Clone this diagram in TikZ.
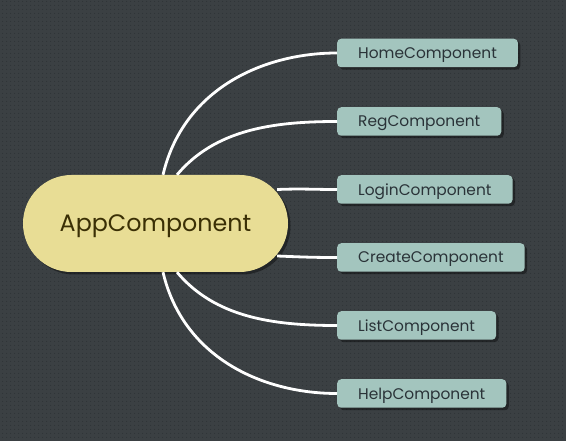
\documentclass[tikz,border=0pt]{standalone}
\usepackage{fontspec}
\setmainfont{Poppins}
\usetikzlibrary{shapes.misc,shadows,patterns.meta}
\definecolor{bg}{HTML}{3B4043}
\definecolor{bgdot}{HTML}{2F3437}
\definecolor{pillfill}{HTML}{E8DD95}
\definecolor{pilltext}{HTML}{3A2F05}
\definecolor{boxfill}{HTML}{A3C5BE}
\definecolor{boxtext}{HTML}{2A3338}
\begin{document}
\begin{tikzpicture}[x=1pt,y=-1pt,
  link/.style={draw=white,line width=2.8pt},
  pill/.style={rounded rectangle,fill=pillfill,text=pilltext,minimum width=265pt,minimum height=97pt,inner sep=0pt,
    font=\fontsize{23.8}{27}\selectfont,text depth=0pt,
    drop shadow={shadow xshift=2.5pt,shadow yshift=-2.5pt,opacity=0.4,fill=black}},
  leaf/.style={rectangle,rounded corners=4pt,fill=boxfill,text=boxtext,anchor=west,minimum height=28.5pt,inner xsep=21pt,inner ysep=0pt,
    font=\fontsize{15.4}{18}\selectfont,text depth=0pt,
    drop shadow={shadow xshift=2.5pt,shadow yshift=-2.5pt,opacity=0.4,fill=black}}]
\useasboundingbox (0,0) rectangle (566,441);
\fill[bg] (0,0) rectangle (566,441);
\fill[pattern={Dots[distance=4pt,radius=0.7pt]},pattern color=bgdot] (0,0) rectangle (566,441);

\node[pill] (app) at (155.5,223.5) {AppComponent};
\node[leaf] (home) at (337,53) {HomeComponent};
\node[leaf] (reg) at (337,121.5) {RegComponent};
\node[leaf] (login) at (337,189.5) {LoginComponent};
\node[leaf] (create) at (337,257.5) {CreateComponent};
\node[leaf] (list) at (337,325.5) {ListComponent};
\node[leaf] (help) at (337,393.5) {HelpComponent};

\draw[link] ([xshift=7.5pt]app.north) .. controls +(20,-85) and +(-75,0) .. (home.west);
\draw[link] ([xshift=21.5pt]app.north) .. controls +(38,-45) and +(-65,0) .. (reg.west);
\draw[link] ([shift={(-11,-34)}]app.east) .. controls +(25,-1) and +(-25,0) .. (login.west);
\draw[link] ([shift={(-11,32.5)}]app.east) .. controls +(25,1) and +(-25,0) .. (create.west);
\draw[link] ([xshift=21.5pt]app.south) .. controls +(38,45) and +(-65,0) .. (list.west);
\draw[link] ([xshift=7.5pt]app.south) .. controls +(20,85) and +(-75,0) .. (help.west);
\end{tikzpicture}
\end{document}
